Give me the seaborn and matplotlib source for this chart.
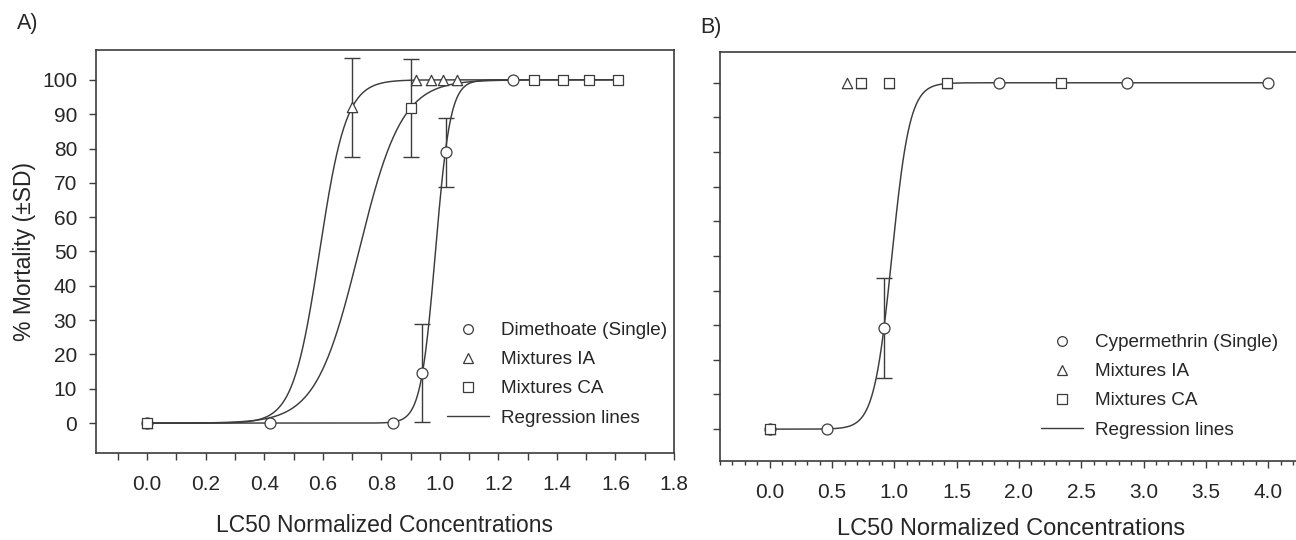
import numpy as np
import pandas as pd
import seaborn as sns
import matplotlib.pyplot as plt
from matplotlib.lines import Line2D
from matplotlib.ticker import MultipleLocator

# ---- panel A: dimethoate ----
a_single_x = [0.0, 0.42, 0.84, 0.94, 1.02, 1.25]
a_single_y = [0, 0, 0, 14.6, 78.9, 100]
a_single_sd = [0, 0, 0, 14.2, 10.1, 0]
a_ia_x = [0.0, 0.70, 0.92, 0.97, 1.01, 1.06]
a_ia_y = [0, 92.0, 100, 100, 100, 100]
a_ia_sd = [0, 14.4, 0, 0, 0, 0]
a_ca_x = [0.0, 0.90, 1.32, 1.42, 1.51, 1.61]
a_ca_y = [0, 91.8, 100, 100, 100, 100]
a_ca_sd = [0, 14.4, 0, 0, 0, 0]
# fitted logistic regression lines (midpoint, scale, x end)
a_fit_mid = [0.985, 0.589, 0.723]
a_fit_scale = [0.0253, 0.0455, 0.0733]
a_fit_end = [1.25, 1.61, 1.61]

# ---- panel B: cypermethrin ----
b_single_x = [0.0, 0.46, 0.92, 1.84, 2.87, 4.0]
b_single_y = [0, 0, 29.1, 100, 100, 100]
b_single_sd = [0, 0, 14.4, 0, 0, 0]
b_ia_x = [0.0, 0.62, 0.73, 0.96, 1.42]
b_ia_y = [0, 100, 100, 100, 100]
b_ca_x = [0.0, 0.73, 0.96, 1.42, 2.34]
b_ca_y = [0, 100, 100, 100, 100]
b_fit_mid = [0.98]
b_fit_scale = [0.072]
b_fit_end = [4.0]

line_c = '#3c3c3c'
text_c = '#262626'

sns.set_style("ticks")
plt.rcParams['font.family'] = ['Liberation Sans', 'DejaVu Sans']
plt.rcParams['text.color'] = text_c
plt.rcParams['axes.labelcolor'] = text_c
plt.rcParams['xtick.color'] = line_c
plt.rcParams['ytick.color'] = line_c
plt.rcParams['xtick.labelcolor'] = text_c
plt.rcParams['ytick.labelcolor'] = text_c

fig = plt.figure(figsize=(12.96, 5.4), dpi=100)
W, H = 1296, 540


def px_axes(l, r, t, b):
    return fig.add_axes([l / W, (H - b) / H, (r - l) / W, (b - t) / H])


def draw_points(ax, xs, ys, sds, marker, size):
    df = pd.DataFrame({'x': xs, 'y': ys, 'sd': sds})
    err = df[df['sd'] > 0]
    if len(err):
        ax.errorbar(err['x'], err['y'], yerr=err['sd'], fmt='none', ecolor=line_c,
                    elinewidth=1.0, capsize=5.5, capthick=1.0, zorder=2.5)
    sns.scatterplot(data=df, x='x', y='y', marker=marker, s=size, color='white',
                    edgecolor=line_c, linewidth=0.9, zorder=3, ax=ax, legend=False)


def draw_fits(ax, mids, scales, ends):
    for m, s, e in zip(mids, scales, ends):
        xx = np.linspace(0.0, e, 600)
        yy = 100.0 / (1.0 + np.exp(-(xx - m) / s))
        sns.lineplot(x=xx, y=yy, color=line_c, linewidth=1.05, ax=ax,
                     estimator=None, sort=False, zorder=2)


def style_axes(ax, label_size, label_pad):
    for sp in ax.spines.values():
        sp.set_color(line_c)
        sp.set_linewidth(1.2)
    ax.tick_params(which='both', direction='out', top=False, right=False,
                   width=1.0, labelsize=15)
    ax.set_xlabel('LC50 Normalized Concentrations', fontsize=label_size, labelpad=label_pad)
    ax.grid(False)


def legend(ax, first, anchor):
    handles = [
        Line2D([], [], linestyle='none', marker='o', markersize=7, markerfacecolor='white',
               markeredgecolor=line_c, markeredgewidth=0.9),
        Line2D([], [], linestyle='none', marker='^', markersize=7, markerfacecolor='white',
               markeredgecolor=line_c, markeredgewidth=0.9),
        Line2D([], [], linestyle='none', marker='s', markersize=6.5, markerfacecolor='white',
               markeredgecolor=line_c, markeredgewidth=0.9),
        Line2D([], [], color=line_c, linewidth=1.0),
    ]
    labels = [first, 'Mixtures IA', 'Mixtures CA', 'Regression lines']
    ax.legend(handles, labels, loc='upper left', frameon=False, fontsize=13.6,
              bbox_to_anchor=(anchor[0] / W, 1 - anchor[1] / H),
              bbox_transform=fig.transFigure, borderpad=0, borderaxespad=0,
              handlelength=2.2, handletextpad=0.65, labelspacing=0.63)


# ---------------- panel A ----------------
axA = px_axes(95.7, 674, 50, 453.3)
draw_fits(axA, a_fit_mid, a_fit_scale, a_fit_end)
draw_points(axA, a_single_x, a_single_y, a_single_sd, 'o', 62)
draw_points(axA, a_ia_x, a_ia_y, a_ia_sd, '^', 55)
draw_points(axA, a_ca_x, a_ca_y, a_ca_sd, 's', 48)
axA.set_xlim(-0.176, 1.8)
axA.set_ylim(-8.8, 108.7)
axA.xaxis.set_minor_locator(MultipleLocator(0.1))
axA.set_yticks(range(0, 101, 10))
axA.set_xticks(np.arange(0, 1.81, 0.2))
axA.set_xticklabels([f'{v:.1f}' for v in np.arange(0, 1.81, 0.2)])
style_axes(axA, 16.5, 14)
axA.tick_params(axis='x', which='both', length=5, pad=10.8)
axA.tick_params(axis='y', length=5, pad=8.4)
axA.set_ylabel('% Mortality (\u00b1SD)', fontsize=16.5, labelpad=4.5)
legend(axA, 'Dimethoate (Single)', (447, 322))
fig.text(17 / W, 1 - 24 / H, 'A)', fontsize=15.5, va='center', ha='left')

# ---------------- panel B ----------------
axB = px_axes(720, 1303, 52.3, 461)
draw_fits(axB, b_fit_mid, b_fit_scale, b_fit_end)
draw_points(axB, b_single_x, b_single_y, b_single_sd, 'o', 62)
draw_points(axB, b_ia_x, b_ia_y, [0] * len(b_ia_x), '^', 55)
draw_points(axB, b_ca_x, b_ca_y, [0] * len(b_ca_x), 's', 48)
axB.set_xlim(-0.4, 4.28)
axB.set_ylim(-9.2, 108.8)
axB.set_xticks(np.arange(0, 4.01, 0.5))
axB.set_xticklabels([f'{v:.1f}' for v in np.arange(0, 4.01, 0.5)])
axB.xaxis.set_minor_locator(MultipleLocator(0.1))
axB.set_yticks(range(0, 101, 10))
axB.set_yticklabels([])
axB.set_ylabel('')
style_axes(axB, 17, 11.5)
axB.tick_params(axis='x', which='major', length=5, pad=10.8)
axB.tick_params(axis='x', which='minor', length=2.8)
axB.tick_params(axis='y', length=5)
axB.spines['right'].set_visible(False)
legend(axB, 'Cypermethrin (Single)', (1041, 334))
fig.text(700 / W, 1 - 28 / H, 'B)', fontsize=15.5, va='center', ha='left')

fig.savefig('out.png', dpi=100)
